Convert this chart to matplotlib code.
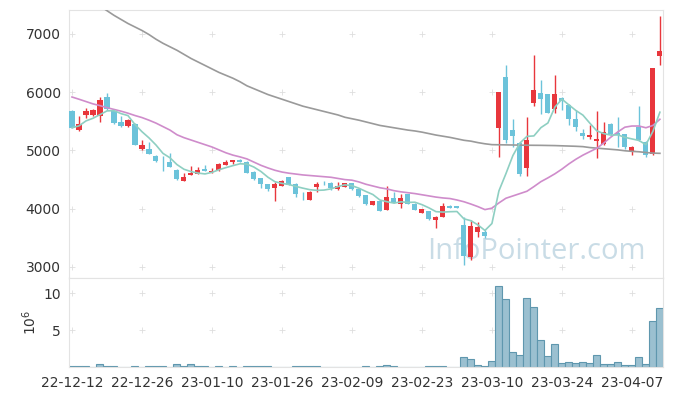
import numpy as np
import pandas as pd
import matplotlib
matplotlib.use("Agg")
import matplotlib.pyplot as plt

# daily prices, 22-12-12 .. 23-04-13 (trading days)
opens = [5680, 5350, 5615, 5615, 5600, 5924, 5678, 5489, 5426, 5461,
         5031, 5026, 4906, 4805, 4803, 4665, 4482, 4585, 4597, 4682,
         4630, 4660, 4751, 4803, 4837, 4803, 4631, 4522, 4425, 4363,
         4396, 4545, 4425, 4205, 4150, 4380, 4445, 4448, 4334, 4380,
         4437, 4334, 4236, 4070, 4133, 3985, 4180, 4082, 4253, 4087,
         3933, 3957, 3808, 3865, 4047, 4047, 3721, 3177, 3606, 3606,
         4609, 5391, 6262, 5352, 5130, 4705, 5810, 5981, 5970, 5712,
         5907, 5781, 5546, 5296, 5232, 5168, 5112, 5455, 5296, 5278,
         4997, 5404, 5152, 4940, 6623]
highs = [5690, 5590, 5735, 5720, 5913, 5980, 5685, 5597, 5540, 5479,
         5175, 5140, 4915, 4900, 4956, 4680, 4614, 4738, 4720, 4751,
         4700, 4780, 4840, 4840, 4850, 4820, 4640, 4530, 4430, 4454,
         4490, 4550, 4440, 4290, 4300, 4460, 4480, 4455, 4460, 4445,
         4445, 4340, 4240, 4140, 4140, 4391, 4294, 4250, 4260, 4095,
         4000, 3965, 3880, 4100, 4070, 4050, 3865, 3807, 3778, 3640,
         4609, 6000, 6468, 5541, 5140, 5571, 6640, 6210, 5975, 6296,
         5925, 5790, 5695, 5369, 5438, 5678, 5488, 5480, 5571, 5285,
         5083, 5764, 5160, 6410, 7309]
lows = [5380, 5340, 5563, 5600, 5495, 5700, 5455, 5398, 5410, 5090,
        5002, 4940, 4800, 4640, 4715, 4490, 4475, 4580, 4590, 4640,
        4620, 4655, 4745, 4760, 4795, 4610, 4490, 4352, 4310, 4140,
        4390, 4400, 4200, 4150, 4145, 4280, 4400, 4330, 4330, 4375,
        4320, 4200, 4060, 4065, 3960, 3980, 4090, 4007, 4080, 3970,
        3925, 3800, 3665, 3860, 4005, 4005, 3034, 3120, 3520, 3500,
        4609, 4894, 5134, 5065, 4555, 4555, 5764, 5627, 5640, 5638,
        5695, 5432, 5335, 5197, 5197, 4866, 5100, 5270, 5065, 5030,
        4923, 5170, 4894, 4930, 6468]
closes = [5390, 5455, 5678, 5690, 5867, 5707, 5477, 5426, 5516, 5099,
          5094, 4946, 4815, 4795, 4722, 4511, 4545, 4619, 4665, 4648,
          4645, 4768, 4803, 4837, 4803, 4619, 4511, 4425, 4345, 4420,
          4476, 4413, 4259, 4197, 4288, 4420, 4437, 4363, 4396, 4437,
          4345, 4219, 4082, 4133, 3967, 4202, 4099, 4190, 4087, 3979,
          3996, 3824, 3865, 4047, 4013, 4013, 3194, 3704, 3687, 3537,
          4609, 5997, 5180, 5249, 4603, 5180, 6039, 5890, 5650, 5970,
          5855, 5546, 5409, 5255, 5272, 5197, 5313, 5283, 5272, 5065,
          5060, 5180, 4923, 6410, 6714]
# volume in millions
volume = [0.2, 0.2, 0.2, 0.02, 0.4, 0.2, 0.2, 0.02, 0.02, 0.2,
          0.02, 0.2, 0.2, 0.2, 0.02, 0.4, 0.2, 0.4, 0.2, 0.2,
          0.02, 0.2, 0.02, 0.2, 0.02, 0.2, 0.2, 0.2, 0.2, 0.02,
          0.02, 0.02, 0.2, 0.2, 0.2, 0.2, 0.02, 0.02, 0.02, 0.02,
          0.02, 0.02, 0.2, 0.02, 0.2, 0.32, 0.2, 0.02, 0.02, 0.02,
          0.02, 0.2, 0.2, 0.2, 0.02, 0.02, 1.35, 1.08, 0.27, 0.14,
          0.81, 11.0, 9.19, 2.03, 1.62, 9.32, 8.1, 3.65, 1.49, 3.1,
          0.54, 0.68, 0.54, 0.68, 0.54, 1.62, 0.4, 0.4, 0.68, 0.27,
          0.27, 1.35, 0.4, 6.2, 7.97]
# moving averages (they start before the shown period)
ma20 = [5918, 5880, 5840, 5800, 5770, 5735, 5705, 5675, 5640, 5600,
        5565, 5520, 5470, 5410, 5350, 5270, 5220, 5180, 5140, 5100,
        5060, 5010, 4960, 4920, 4890, 4855, 4800, 4745, 4700, 4660,
        4630, 4610, 4595, 4580, 4570, 4560, 4550, 4540, 4520, 4500,
        4490, 4460, 4420, 4390, 4360, 4340, 4310, 4290, 4275, 4260,
        4240, 4220, 4200, 4185, 4175, 4150, 4120, 4080, 4036, 3985,
        4010, 4100, 4180, 4220, 4260, 4300, 4380, 4465, 4530, 4600,
        4680, 4770, 4850, 4920, 4980, 5040, 5130, 5230, 5320, 5400,
        5420, 5420, 5390, 5430, 5536]
ma60 = [7760, 7690, 7620, 7550, 7480, 7400, 7320, 7250, 7180, 7120,
        7060, 6990, 6910, 6840, 6780, 6720, 6650, 6580, 6520, 6460,
        6400, 6340, 6290, 6240, 6180, 6110, 6060, 6010, 5960, 5920,
        5880, 5840, 5800, 5760, 5730, 5700, 5670, 5640, 5610, 5570,
        5545, 5520, 5490, 5460, 5430, 5410, 5390, 5370, 5350, 5335,
        5315, 5290, 5265, 5245, 5225, 5200, 5175, 5160, 5135, 5115,
        5100, 5098, 5096, 5094, 5092, 5090, 5089, 5088, 5086, 5084,
        5080, 5076, 5072, 5066, 5050, 5040, 5030, 5020, 5010, 4995,
        4985, 4978, 4965, 4955, 4951]
tick_labels = ["22-12-12", "22-12-26", "23-01-10", "23-01-26", "23-02-09",
               "23-02-23", "23-03-10", "23-03-24", "23-04-07"]

df = pd.DataFrame({"open": opens, "high": highs, "low": lows,
                   "close": closes, "volume": volume})
df["ma5"] = df["close"].rolling(5, min_periods=1).mean()
x = np.arange(len(df))

UP = "#e8363c"
DOWN = "#6cc3da"
colors = [UP if c > o else DOWN for o, c in zip(df["open"], df["close"])]

fig = plt.figure(figsize=(6.73, 3.96), dpi=100)
ax = fig.add_axes([0.1025, 0.298, 0.8822, 0.6768])
axv = fig.add_axes([0.1025, 0.0725, 0.8822, 0.2255], sharex=ax)

# watermark
ax.text(0.788, 0.1, "InfoPointer.com", transform=ax.transAxes, ha="center",
        va="center", fontsize=21, color="#c9dce6", family="Open Sans", zorder=0)

# candles
ax.vlines(x, df["low"], df["high"], colors=colors, lw=1, zorder=2)
body = np.maximum((df["close"] - df["open"]).abs(), 12)
ax.bar(x, body, bottom=np.minimum(df["open"], df["close"]), width=0.72,
       color=colors, zorder=3)

ax.plot(x, ma60, color="#9a9a9a", lw=1.2, zorder=4)
ax.plot(x, ma20, color="#cf8ccb", lw=1.2, zorder=4)
ax.plot(x, df["ma5"], color="#8ecfc2", lw=1.2, zorder=4)

ax.set_ylim(2811, 7412)
ax.set_yticks([3000, 4000, 5000, 6000, 7000])
ax.set_xlim(-0.43, 84.4)

# volume
axv.bar(x, df["volume"], width=1.0, color="#9bc0d0", edgecolor="#5f97ae",
        lw=0.8, zorder=2)
axv.set_ylim(0, 12.07)
axv.set_yticks([5, 10])
axv.set_xticks(np.arange(0, 81, 10))
axv.set_xticklabels(tick_labels)
axv.set_ylabel("10$^6$", fontsize=10, color="#333333", labelpad=3)

for a in (ax, axv):
    for s in a.spines.values():
        s.set_color("#e3e3e3")
    a.tick_params(length=0, labelsize=10, colors="#333333", pad=6)
    a.set_facecolor("white")
    xs, ys = np.meshgrid(np.arange(0, 81, 10), a.get_yticks())
    a.scatter(xs.ravel(), ys.ravel(), marker="+", s=20, lw=0.6,
              color="#dedede", zorder=1)
plt.setp(ax.get_xticklabels(), visible=False)

fig.savefig("out.png", dpi=100)
